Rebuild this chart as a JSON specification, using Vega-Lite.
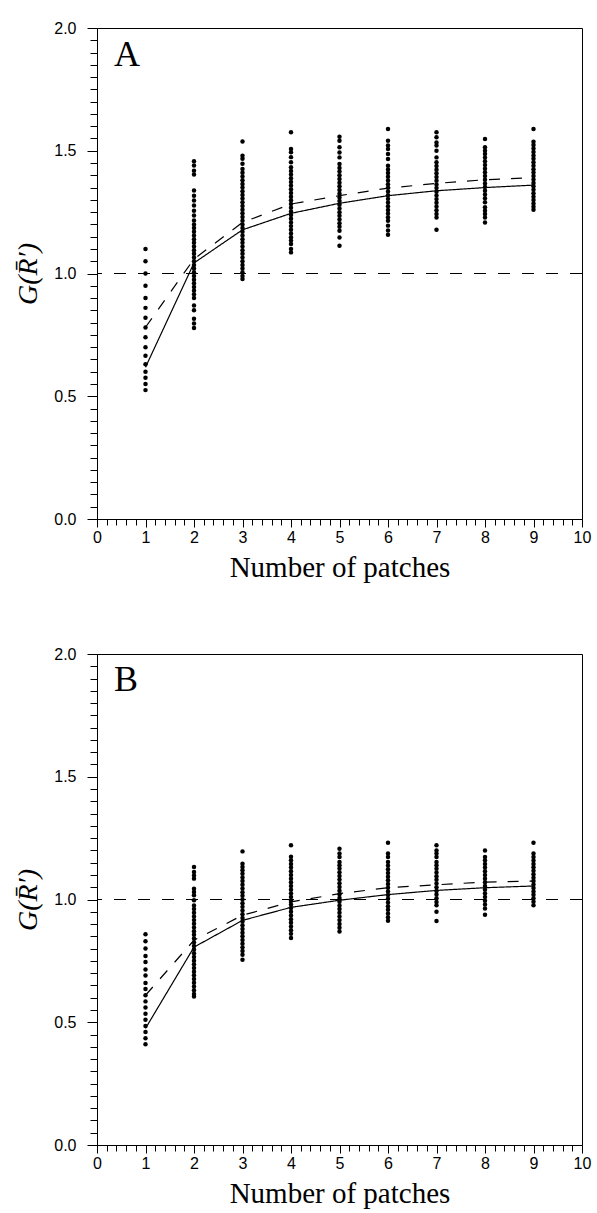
{
  "$schema": "https://vega.github.io/schema/vega-lite/v6.json",
  "padding": {"left": 14, "top": 19, "right": 5, "bottom": 0},
  "background": "white",
  "spacing": 62,
  "config": {
    "view": {"stroke": "black", "strokeWidth": 1},
    "axis": {
      "domainColor": "black", "tickColor": "black", "labelColor": "black", "titleColor": "black",
      "grid": false, "labelFont": "Liberation Sans", "labelFontSize": 16,
      "titleFont": "Liberation Serif", "titleFontWeight": "normal", "labelFlush": false, "labelOverlap": false
    }
  },
  "datasets": {
    "dotsA": [
      {"x":1,"y":1.10},{"x":1,"y":1.05},{"x":1,"y":1.00},{"x":1,"y":0.95},{"x":1,"y":0.90},{"x":1,"y":0.86},{"x":1,"y":0.82},{"x":1,"y":0.78},{"x":1,"y":0.74},{"x":1,"y":0.70},{"x":1,"y":0.665},{"x":1,"y":0.63},{"x":1,"y":0.60},{"x":1,"y":0.575},{"x":1,"y":0.55},{"x":1,"y":0.525},
      {"x":2,"y":1.457},{"x":2,"y":1.44},{"x":2,"y":1.419},{"x":2,"y":1.403},{"x":2,"y":1.338},{"x":2,"y":1.317},{"x":2,"y":1.297},{"x":2,"y":1.277},{"x":2,"y":1.256},{"x":2,"y":1.236},{"x":2,"y":1.216},{"x":2,"y":1.20},{"x":2,"y":1.185},{"x":2,"y":1.17},{"x":2,"y":1.155},{"x":2,"y":1.14},{"x":2,"y":1.125},{"x":2,"y":1.11},{"x":2,"y":1.095},{"x":2,"y":1.08},{"x":2,"y":1.065},{"x":2,"y":1.05},{"x":2,"y":1.035},{"x":2,"y":1.02},{"x":2,"y":1.005},{"x":2,"y":0.99},{"x":2,"y":0.975},{"x":2,"y":0.96},{"x":2,"y":0.945},{"x":2,"y":0.93},{"x":2,"y":0.915},{"x":2,"y":0.90},{"x":2,"y":0.87},{"x":2,"y":0.85},{"x":2,"y":0.816},{"x":2,"y":0.796},{"x":2,"y":0.778},
      {"x":3,"y":1.538},{"x":3,"y":1.48},{"x":3,"y":1.467},{"x":3,"y":1.447},{"x":3,"y":1.426},{"x":3,"y":1.41},{"x":3,"y":1.395},{"x":3,"y":1.38},{"x":3,"y":1.365},{"x":3,"y":1.35},{"x":3,"y":1.335},{"x":3,"y":1.32},{"x":3,"y":1.305},{"x":3,"y":1.29},{"x":3,"y":1.275},{"x":3,"y":1.26},{"x":3,"y":1.245},{"x":3,"y":1.23},{"x":3,"y":1.215},{"x":3,"y":1.20},{"x":3,"y":1.185},{"x":3,"y":1.17},{"x":3,"y":1.155},{"x":3,"y":1.14},{"x":3,"y":1.125},{"x":3,"y":1.11},{"x":3,"y":1.095},{"x":3,"y":1.08},{"x":3,"y":1.065},{"x":3,"y":1.05},{"x":3,"y":1.035},{"x":3,"y":1.02},{"x":3,"y":1.005},{"x":3,"y":0.99},{"x":3,"y":0.978},
      {"x":4,"y":1.575},{"x":4,"y":1.507},{"x":4,"y":1.494},{"x":4,"y":1.474},{"x":4,"y":1.453},{"x":4,"y":1.433},{"x":4,"y":1.418},{"x":4,"y":1.403},{"x":4,"y":1.388},{"x":4,"y":1.373},{"x":4,"y":1.358},{"x":4,"y":1.343},{"x":4,"y":1.328},{"x":4,"y":1.313},{"x":4,"y":1.298},{"x":4,"y":1.283},{"x":4,"y":1.268},{"x":4,"y":1.253},{"x":4,"y":1.238},{"x":4,"y":1.223},{"x":4,"y":1.208},{"x":4,"y":1.193},{"x":4,"y":1.178},{"x":4,"y":1.163},{"x":4,"y":1.148},{"x":4,"y":1.134},{"x":4,"y":1.12},{"x":4,"y":1.10},{"x":4,"y":1.086},
      {"x":5,"y":1.557},{"x":5,"y":1.541},{"x":5,"y":1.514},{"x":5,"y":1.493},{"x":5,"y":1.473},{"x":5,"y":1.446},{"x":5,"y":1.43},{"x":5,"y":1.415},{"x":5,"y":1.40},{"x":5,"y":1.385},{"x":5,"y":1.37},{"x":5,"y":1.355},{"x":5,"y":1.34},{"x":5,"y":1.325},{"x":5,"y":1.31},{"x":5,"y":1.295},{"x":5,"y":1.28},{"x":5,"y":1.265},{"x":5,"y":1.25},{"x":5,"y":1.235},{"x":5,"y":1.22},{"x":5,"y":1.205},{"x":5,"y":1.19},{"x":5,"y":1.174},{"x":5,"y":1.147},{"x":5,"y":1.113},
      {"x":6,"y":1.589},{"x":6,"y":1.541},{"x":6,"y":1.521},{"x":6,"y":1.507},{"x":6,"y":1.487},{"x":6,"y":1.466},{"x":6,"y":1.439},{"x":6,"y":1.424},{"x":6,"y":1.409},{"x":6,"y":1.394},{"x":6,"y":1.379},{"x":6,"y":1.364},{"x":6,"y":1.349},{"x":6,"y":1.334},{"x":6,"y":1.319},{"x":6,"y":1.304},{"x":6,"y":1.289},{"x":6,"y":1.274},{"x":6,"y":1.259},{"x":6,"y":1.244},{"x":6,"y":1.229},{"x":6,"y":1.215},{"x":6,"y":1.195},{"x":6,"y":1.175},{"x":6,"y":1.158},
      {"x":7,"y":1.575},{"x":7,"y":1.555},{"x":7,"y":1.534},{"x":7,"y":1.521},{"x":7,"y":1.50},{"x":7,"y":1.473},{"x":7,"y":1.453},{"x":7,"y":1.438},{"x":7,"y":1.423},{"x":7,"y":1.408},{"x":7,"y":1.393},{"x":7,"y":1.378},{"x":7,"y":1.363},{"x":7,"y":1.348},{"x":7,"y":1.333},{"x":7,"y":1.318},{"x":7,"y":1.303},{"x":7,"y":1.288},{"x":7,"y":1.273},{"x":7,"y":1.258},{"x":7,"y":1.242},{"x":7,"y":1.228},{"x":7,"y":1.178},
      {"x":8,"y":1.548},{"x":8,"y":1.514},{"x":8,"y":1.50},{"x":8,"y":1.487},{"x":8,"y":1.472},{"x":8,"y":1.457},{"x":8,"y":1.442},{"x":8,"y":1.427},{"x":8,"y":1.412},{"x":8,"y":1.397},{"x":8,"y":1.382},{"x":8,"y":1.367},{"x":8,"y":1.352},{"x":8,"y":1.337},{"x":8,"y":1.322},{"x":8,"y":1.307},{"x":8,"y":1.29},{"x":8,"y":1.27},{"x":8,"y":1.256},{"x":8,"y":1.242},{"x":8,"y":1.228},{"x":8,"y":1.208},
      {"x":9,"y":1.589},{"x":9,"y":1.537},{"x":9,"y":1.523},{"x":9,"y":1.509},{"x":9,"y":1.495},{"x":9,"y":1.481},{"x":9,"y":1.467},{"x":9,"y":1.453},{"x":9,"y":1.439},{"x":9,"y":1.425},{"x":9,"y":1.411},{"x":9,"y":1.397},{"x":9,"y":1.383},{"x":9,"y":1.369},{"x":9,"y":1.355},{"x":9,"y":1.341},{"x":9,"y":1.327},{"x":9,"y":1.313},{"x":9,"y":1.299},{"x":9,"y":1.285},{"x":9,"y":1.272},{"x":9,"y":1.26}
    ],
    "dotsB": [
      {"x":1,"y":0.858},{"x":1,"y":0.83},{"x":1,"y":0.80},{"x":1,"y":0.77},{"x":1,"y":0.745},{"x":1,"y":0.715},{"x":1,"y":0.69},{"x":1,"y":0.66},{"x":1,"y":0.635},{"x":1,"y":0.61},{"x":1,"y":0.585},{"x":1,"y":0.56},{"x":1,"y":0.535},{"x":1,"y":0.51},{"x":1,"y":0.485},{"x":1,"y":0.46},{"x":1,"y":0.435},{"x":1,"y":0.41},
      {"x":2,"y":1.132},{"x":2,"y":1.112},{"x":2,"y":1.098},{"x":2,"y":1.085},{"x":2,"y":1.044},{"x":2,"y":1.031},{"x":2,"y":1.017},{"x":2,"y":0.997},{"x":2,"y":0.976},{"x":2,"y":0.961},{"x":2,"y":0.946},{"x":2,"y":0.931},{"x":2,"y":0.916},{"x":2,"y":0.901},{"x":2,"y":0.886},{"x":2,"y":0.871},{"x":2,"y":0.856},{"x":2,"y":0.841},{"x":2,"y":0.826},{"x":2,"y":0.811},{"x":2,"y":0.796},{"x":2,"y":0.781},{"x":2,"y":0.766},{"x":2,"y":0.751},{"x":2,"y":0.736},{"x":2,"y":0.721},{"x":2,"y":0.706},{"x":2,"y":0.691},{"x":2,"y":0.676},{"x":2,"y":0.661},{"x":2,"y":0.646},{"x":2,"y":0.63},{"x":2,"y":0.615},{"x":2,"y":0.605},
      {"x":3,"y":1.196},{"x":3,"y":1.146},{"x":3,"y":1.132},{"x":3,"y":1.119},{"x":3,"y":1.105},{"x":3,"y":1.09},{"x":3,"y":1.075},{"x":3,"y":1.06},{"x":3,"y":1.045},{"x":3,"y":1.03},{"x":3,"y":1.015},{"x":3,"y":1.0},{"x":3,"y":0.985},{"x":3,"y":0.97},{"x":3,"y":0.955},{"x":3,"y":0.94},{"x":3,"y":0.925},{"x":3,"y":0.91},{"x":3,"y":0.895},{"x":3,"y":0.88},{"x":3,"y":0.865},{"x":3,"y":0.85},{"x":3,"y":0.835},{"x":3,"y":0.82},{"x":3,"y":0.805},{"x":3,"y":0.79},{"x":3,"y":0.775},{"x":3,"y":0.755},
      {"x":4,"y":1.221},{"x":4,"y":1.174},{"x":4,"y":1.16},{"x":4,"y":1.145},{"x":4,"y":1.13},{"x":4,"y":1.115},{"x":4,"y":1.10},{"x":4,"y":1.085},{"x":4,"y":1.07},{"x":4,"y":1.055},{"x":4,"y":1.04},{"x":4,"y":1.025},{"x":4,"y":1.01},{"x":4,"y":0.995},{"x":4,"y":0.98},{"x":4,"y":0.965},{"x":4,"y":0.95},{"x":4,"y":0.935},{"x":4,"y":0.92},{"x":4,"y":0.905},{"x":4,"y":0.89},{"x":4,"y":0.875},{"x":4,"y":0.86},{"x":4,"y":0.843},
      {"x":5,"y":1.207},{"x":5,"y":1.187},{"x":5,"y":1.173},{"x":5,"y":1.153},{"x":5,"y":1.14},{"x":5,"y":1.126},{"x":5,"y":1.111},{"x":5,"y":1.096},{"x":5,"y":1.081},{"x":5,"y":1.066},{"x":5,"y":1.051},{"x":5,"y":1.036},{"x":5,"y":1.021},{"x":5,"y":1.006},{"x":5,"y":0.991},{"x":5,"y":0.976},{"x":5,"y":0.961},{"x":5,"y":0.946},{"x":5,"y":0.931},{"x":5,"y":0.916},{"x":5,"y":0.90},{"x":5,"y":0.885},{"x":5,"y":0.87},
      {"x":6,"y":1.231},{"x":6,"y":1.187},{"x":6,"y":1.173},{"x":6,"y":1.153},{"x":6,"y":1.138},{"x":6,"y":1.123},{"x":6,"y":1.108},{"x":6,"y":1.093},{"x":6,"y":1.078},{"x":6,"y":1.063},{"x":6,"y":1.048},{"x":6,"y":1.033},{"x":6,"y":1.018},{"x":6,"y":1.003},{"x":6,"y":0.988},{"x":6,"y":0.973},{"x":6,"y":0.958},{"x":6,"y":0.943},{"x":6,"y":0.928},{"x":6,"y":0.913},
      {"x":7,"y":1.221},{"x":7,"y":1.20},{"x":7,"y":1.187},{"x":7,"y":1.173},{"x":7,"y":1.153},{"x":7,"y":1.14},{"x":7,"y":1.125},{"x":7,"y":1.11},{"x":7,"y":1.095},{"x":7,"y":1.08},{"x":7,"y":1.065},{"x":7,"y":1.05},{"x":7,"y":1.035},{"x":7,"y":1.02},{"x":7,"y":1.005},{"x":7,"y":0.99},{"x":7,"y":0.977},{"x":7,"y":0.95},{"x":7,"y":0.912},
      {"x":8,"y":1.20},{"x":8,"y":1.173},{"x":8,"y":1.16},{"x":8,"y":1.145},{"x":8,"y":1.13},{"x":8,"y":1.115},{"x":8,"y":1.10},{"x":8,"y":1.085},{"x":8,"y":1.07},{"x":8,"y":1.055},{"x":8,"y":1.04},{"x":8,"y":1.025},{"x":8,"y":1.01},{"x":8,"y":0.995},{"x":8,"y":0.98},{"x":8,"y":0.963},{"x":8,"y":0.938},
      {"x":9,"y":1.231},{"x":9,"y":1.187},{"x":9,"y":1.173},{"x":9,"y":1.159},{"x":9,"y":1.145},{"x":9,"y":1.131},{"x":9,"y":1.117},{"x":9,"y":1.103},{"x":9,"y":1.089},{"x":9,"y":1.075},{"x":9,"y":1.061},{"x":9,"y":1.047},{"x":9,"y":1.033},{"x":9,"y":1.019},{"x":9,"y":1.005},{"x":9,"y":0.991},{"x":9,"y":0.977}
    ],
    "linesA": [
      {"x":1,"y":0.618,"type":"solid"},{"x":2,"y":1.043,"type":"solid"},{"x":3,"y":1.178,"type":"solid"},{"x":4,"y":1.245,"type":"solid"},{"x":5,"y":1.286,"type":"solid"},{"x":6,"y":1.317,"type":"solid"},{"x":7,"y":1.337,"type":"solid"},{"x":8,"y":1.350,"type":"solid"},{"x":9,"y":1.360,"type":"solid"},
      {"x":1,"y":0.781,"type":"dashed"},{"x":2,"y":1.059,"type":"dashed"},{"x":3,"y":1.208,"type":"dashed"},{"x":4,"y":1.283,"type":"dashed"},{"x":5,"y":1.317,"type":"dashed"},{"x":6,"y":1.348,"type":"dashed"},{"x":7,"y":1.367,"type":"dashed"},{"x":8,"y":1.382,"type":"dashed"},{"x":9,"y":1.390,"type":"dashed"}
    ],
    "linesB": [
      {"x":1,"y":0.475,"type":"solid"},{"x":2,"y":0.806,"type":"solid"},{"x":3,"y":0.915,"type":"solid"},{"x":4,"y":0.968,"type":"solid"},{"x":5,"y":0.997,"type":"solid"},{"x":6,"y":1.020,"type":"solid"},{"x":7,"y":1.037,"type":"solid"},{"x":8,"y":1.048,"type":"solid"},{"x":9,"y":1.055,"type":"solid"},
      {"x":1,"y":0.61,"type":"dashed"},{"x":2,"y":0.834,"type":"dashed"},{"x":3,"y":0.936,"type":"dashed"},{"x":4,"y":0.990,"type":"dashed"},{"x":5,"y":1.024,"type":"dashed"},{"x":6,"y":1.048,"type":"dashed"},{"x":7,"y":1.060,"type":"dashed"},{"x":8,"y":1.071,"type":"dashed"},{"x":9,"y":1.075,"type":"dashed"}
    ],
    "refs": [{"g": 1}],
    "panelA": [{"panel": "A"}],
    "panelB": [{"panel": "B"}]
  },
  "vconcat": [
    {
      "width": 485, "height": 491,
      "encoding": {
        "x": {"type": "quantitative", "scale": {"domain": [0, 10], "nice": false},
          "axis": {"title": "Number of patches", "titleFontSize": 29, "titlePadding": 8, "tickSize": {"condition": {"test": "abs(datum.value - round(datum.value)) < 0.001", "value": 8}, "value": 6},
            "values": [0,0.2,0.4,0.6,0.8,1,1.2,1.4,1.6,1.8,2,2.2,2.4,2.6,2.8,3,3.2,3.4,3.6,3.8,4,4.2,4.4,4.6,4.8,5,5.2,5.4,5.6,5.8,6,6.2,6.4,6.6,6.8,7,7.2,7.4,7.6,7.8,8,8.2,8.4,8.6,8.8,9,9.2,9.4,9.6,9.8,10],
            "labelExpr": "abs(datum.value - round(datum.value)) < 0.001 ? format(round(datum.value), 'd') : ''", "labelPadding": 2}},
        "y": {"type": "quantitative", "scale": {"domain": [0, 2], "nice": false},
          "axis": {"title": "G(R̄′)", "titleFontSize": 28, "titleFontStyle": "italic", "titlePadding": 11, "tickSize": {"condition": {"test": "abs(datum.value*2 - round(datum.value*2)) < 0.001", "value": 10}, "value": 7},
            "values": [0,0.05,0.1,0.15,0.2,0.25,0.3,0.35,0.4,0.45,0.5,0.55,0.6,0.65,0.7,0.75,0.8,0.85,0.9,0.95,1,1.05,1.1,1.15,1.2,1.25,1.3,1.35,1.4,1.45,1.5,1.55,1.6,1.65,1.7,1.75,1.8,1.85,1.9,1.95,2],
            "labelExpr": "abs(datum.value*2 - round(datum.value*2)) < 0.001 ? format(datum.value, '.1f') : ''", "labelPadding": 11}}
      },
      "layer": [
        {"data": {"name": "refs"}, "mark": {"type": "rule", "color": "black", "strokeWidth": 1.1, "strokeDash": [12, 12]}, "encoding": {"x": null, "y": {"field": "g", "type": "quantitative"}}},
        {"data": {"name": "dotsA"}, "mark": {"type": "circle", "size": 20, "color": "black", "opacity": 1}, "encoding": {"x": {"field": "x"}, "y": {"field": "y"}}},
        {"data": {"name": "linesA"}, "mark": {"type": "line", "color": "black", "strokeWidth": 1.2}, "encoding": {"x": {"field": "x"}, "y": {"field": "y"}, "strokeDash": {"field": "type", "type": "nominal", "scale": {"domain": ["solid", "dashed"], "range": [[1, 0], [11, 11]]}, "legend": null}}},
        {"data": {"name": "panelA"}, "mark": {"type": "text", "font": "Liberation Serif", "fontSize": 36, "align": "left", "baseline": "alphabetic", "color": "black"}, "encoding": {"x": {"datum": 0.35}, "y": {"datum": 1.845}, "text": {"field": "panel"}}}
      ]
    },
    {
      "width": 485, "height": 491,
      "encoding": {
        "x": {"type": "quantitative", "scale": {"domain": [0, 10], "nice": false},
          "axis": {"title": "Number of patches", "titleFontSize": 29, "titlePadding": 8, "tickSize": {"condition": {"test": "abs(datum.value - round(datum.value)) < 0.001", "value": 8}, "value": 6},
            "values": [0,0.2,0.4,0.6,0.8,1,1.2,1.4,1.6,1.8,2,2.2,2.4,2.6,2.8,3,3.2,3.4,3.6,3.8,4,4.2,4.4,4.6,4.8,5,5.2,5.4,5.6,5.8,6,6.2,6.4,6.6,6.8,7,7.2,7.4,7.6,7.8,8,8.2,8.4,8.6,8.8,9,9.2,9.4,9.6,9.8,10],
            "labelExpr": "abs(datum.value - round(datum.value)) < 0.001 ? format(round(datum.value), 'd') : ''", "labelPadding": 2}},
        "y": {"type": "quantitative", "scale": {"domain": [0, 2], "nice": false},
          "axis": {"title": "G(R̄′)", "titleFontSize": 28, "titleFontStyle": "italic", "titlePadding": 11, "tickSize": {"condition": {"test": "abs(datum.value*2 - round(datum.value*2)) < 0.001", "value": 10}, "value": 7},
            "values": [0,0.05,0.1,0.15,0.2,0.25,0.3,0.35,0.4,0.45,0.5,0.55,0.6,0.65,0.7,0.75,0.8,0.85,0.9,0.95,1,1.05,1.1,1.15,1.2,1.25,1.3,1.35,1.4,1.45,1.5,1.55,1.6,1.65,1.7,1.75,1.8,1.85,1.9,1.95,2],
            "labelExpr": "abs(datum.value*2 - round(datum.value*2)) < 0.001 ? format(datum.value, '.1f') : ''", "labelPadding": 11}}
      },
      "layer": [
        {"data": {"name": "refs"}, "mark": {"type": "rule", "color": "black", "strokeWidth": 1.1, "strokeDash": [12, 12]}, "encoding": {"x": null, "y": {"field": "g", "type": "quantitative"}}},
        {"data": {"name": "dotsB"}, "mark": {"type": "circle", "size": 20, "color": "black", "opacity": 1}, "encoding": {"x": {"field": "x"}, "y": {"field": "y"}}},
        {"data": {"name": "linesB"}, "mark": {"type": "line", "color": "black", "strokeWidth": 1.2}, "encoding": {"x": {"field": "x"}, "y": {"field": "y"}, "strokeDash": {"field": "type", "type": "nominal", "scale": {"domain": ["solid", "dashed"], "range": [[1, 0], [11, 11]]}, "legend": null}}},
        {"data": {"name": "panelB"}, "mark": {"type": "text", "font": "Liberation Serif", "fontSize": 36, "align": "left", "baseline": "alphabetic", "color": "black"}, "encoding": {"x": {"datum": 0.35}, "y": {"datum": 1.85}, "text": {"field": "panel"}}}
      ]
    }
  ]
}
